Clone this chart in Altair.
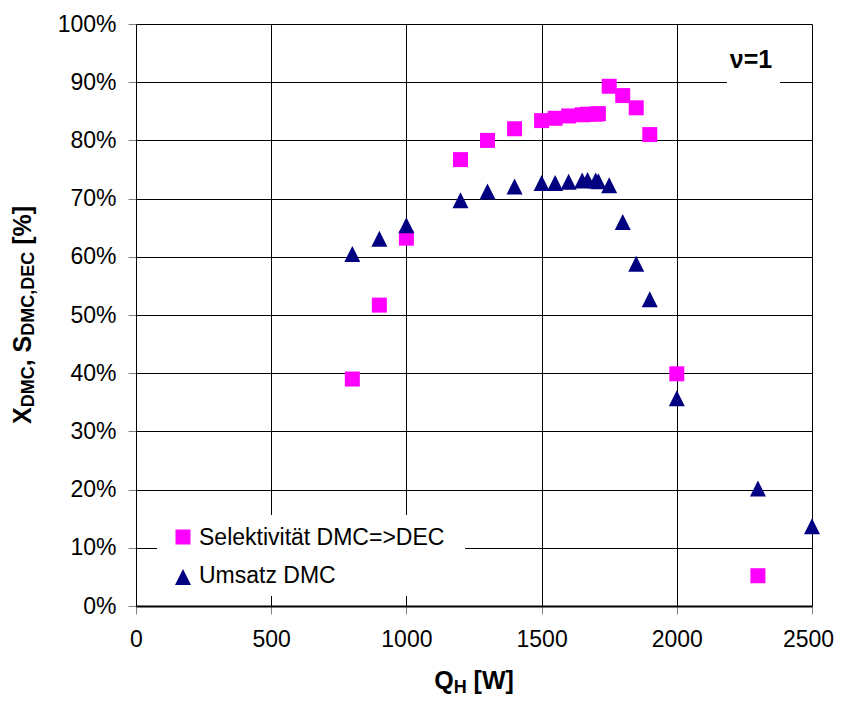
import altair as alt
import pandas as pd

# ---- data ----
sel_x = [800, 900, 1000, 1200, 1300, 1400, 1500, 1550, 1600, 1650, 1670, 1700, 1710,
         1750, 1800, 1850, 1900, 2000, 2300]
sel_y = [39.0, 51.7, 63.2, 76.7, 80.0, 82.0, 83.4, 83.8, 84.2, 84.4, 84.5, 84.5, 84.6,
         89.3, 87.7, 85.6, 81.0, 39.9, 5.2]
ums_x = [800, 900, 1000, 1200, 1300, 1400, 1500, 1550, 1600, 1650, 1670, 1700, 1710,
         1750, 1800, 1850, 1900, 2000, 2300, 2500]
ums_y = [60.5, 63.1, 65.4, 69.7, 71.2, 72.1, 72.7, 72.7, 72.9, 73.1, 73.2, 73.1, 73.0,
         72.3, 66.0, 58.8, 52.7, 35.7, 20.2, 13.7]
series_names = ["Selektivität DMC=>DEC", "Umsatz DMC"]
x_ticks = [0, 500, 1000, 1500, 2000, 2500]
y_ticks = [0, 10, 20, 30, 40, 50, 60, 70, 80, 90, 100]

MAGENTA = "#FF00FF"
NAVY = "#000080"
TRI = "M0,-1L1,1L-1,1Z"
FONT = "Liberation Sans"

W, H = 676, 582

df_sel = pd.DataFrame({"Q": sel_x, "v": sel_y, "s": series_names[0]})
df_ums = pd.DataFrame({"Q": ums_x, "v": ums_y, "s": series_names[1]})

xscale = alt.Scale(domain=[0, 2500], nice=False, zero=True)
yscale = alt.Scale(domain=[0, 100], nice=False)

xaxis = alt.Axis(values=x_ticks, grid=True, gridColor="black", gridWidth=1,
                 domainColor="black", domainWidth=2, tickColor="#808080", tickSize=8,
                 tickWidth=1, labelFont=FONT, labelFontSize=23, labelColor="black",
                 labelPadding=14, title=None, labelFlush=False, format="d",
                 labelOffset={"condition": {"test": "datum.value == 2500", "value": -4},
                              "value": 0})
yaxis = alt.Axis(values=y_ticks, grid=True, gridColor="black", gridWidth=1,
                 domainColor="black", domainWidth=1, tickColor="#808080", tickSize=8,
                 tickWidth=1, labelFont=FONT, labelFontSize=23, labelColor="black",
                 labelPadding=12, title=None, labelExpr="datum.value + '%'",
                 labelFlush=False)

pts_sel = alt.Chart(df_sel).mark_point(filled=True, shape="square", size=225,
                                       color=MAGENTA, opacity=1).encode(
    x=alt.X("Q:Q", scale=xscale, axis=xaxis),
    y=alt.Y("v:Q", scale=yscale, axis=yaxis),
)
pts_ums = alt.Chart(df_ums).mark_point(filled=True, shape=TRI, size=256,
                                       color=NAVY, opacity=1).encode(
    x=alt.X("Q:Q", scale=xscale),
    y=alt.Y("v:Q", scale=yscale),
)

one = pd.DataFrame({"k": [0]})

def rect(x1, x2, y1, y2):
    return alt.Chart(one).mark_rect(color="white").encode(
        x=alt.value(x1), x2=alt.value(x2), y=alt.value(y1), y2=alt.value(y2))

def txt(s, x, y, size, bold=False, angle=0, align="left"):
    kw = dict(font=FONT, fontSize=size, color="black", align=align, baseline="alphabetic")
    if bold:
        kw["fontWeight"] = "bold"
    if angle:
        kw["angle"] = angle
    return alt.Chart(one).mark_text(**kw).encode(
        x=alt.value(x), y=alt.value(y), text=alt.value(s))

# approximate Arial Bold advance widths (em) for title layout
AB = {" ": .278, ",": .278, "[": .333, "]": .333, "%": .889, "C": .722, "D": .722,
      "E": .667, "H": .722, "M": .833, "Q": .778, "S": .667, "W": .944, "X": .667}

def tw(s, size):
    return sum(AB.get(c, .6) for c in s) * size

BIG, SUB = 25, 18

# y title pieces (rotated)
ypieces = [("X", BIG), ("DMC", SUB), (", S", BIG), ("DMC,DEC", SUB), (" [%]", BIG)]
ytotal = sum(tw(s, f) for s, f in ypieces)
cur = H / 2 + ytotal / 2
ylayers = []
for s, f in ypieces:
    lead = len(s) - len(s.lstrip(" "))
    cur -= tw(" " * lead, f)
    s2 = s.lstrip(" ")
    bx = -105 if f == BIG else -102
    ylayers.append(txt(s2, bx, cur, f, bold=True, angle=270))
    cur -= tw(s2, f)

# x title pieces
xpieces = [("Q", BIG), ("H", SUB), (" [W]", BIG)]
xtotal = sum(tw(s, f) for s, f in xpieces)
cur = W / 2 - xtotal / 2
xlayers = []
for s, f in xpieces:
    lead = len(s) - len(s.lstrip(" "))
    cur += tw(" " * lead, f)
    s2 = s.lstrip(" ")
    by = 665 if f == BIG else 669
    xlayers.append(txt(s2, cur, by, f, bold=True))
    cur += tw(s2, f)

# legend
leg_box = rect(21, 329, 491, 572)
leg_sq = alt.Chart(one).mark_point(filled=True, shape="square", size=225, color=MAGENTA,
                                   opacity=1).encode(x=alt.value(47), y=alt.value(513))
leg_tri = alt.Chart(one).mark_point(filled=True, shape=TRI, size=256, color=NAVY,
                                    opacity=1).encode(x=alt.value(47), y=alt.value(553))
leg_t1 = txt(series_names[0], 63, 521, 23)
leg_t2 = txt(series_names[1], 63, 559, 23)

# nu annotation
nu_box = rect(591, 644, 11, 71)
nu_txt = txt("ν=1", 615, 44, 25, bold=True, align="center")

chart = alt.layer(
    pts_sel, pts_ums, leg_box, leg_sq, leg_tri, leg_t1, leg_t2, nu_box, nu_txt,
    *ylayers, *xlayers
).properties(
    width=W, height=H,
    autosize=alt.AutoSizeParams(type="none"),
    padding={"left": 128, "top": 16, "right": 22, "bottom": 90},
    background="white",
).configure_view(stroke="transparent")

chart.save("out.html", embed_options={"renderer": "svg", "actions": False})
